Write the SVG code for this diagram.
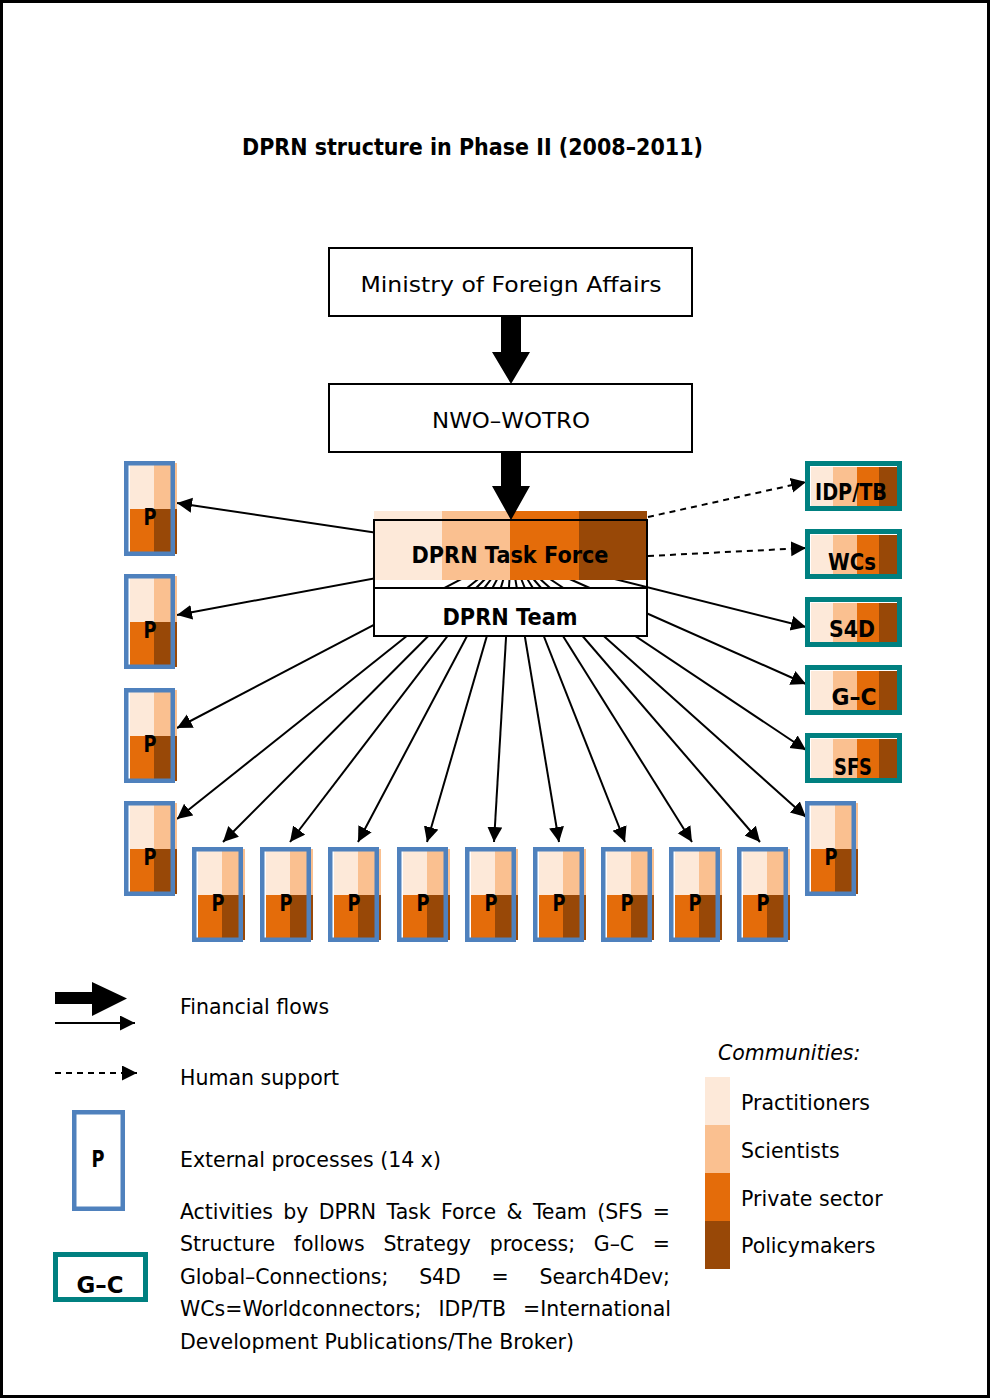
<svg xmlns="http://www.w3.org/2000/svg" xmlns:xlink="http://www.w3.org/1999/xlink" width="990" height="1398" viewBox="0 0 990 1398">
<style>
.t{font-family:"DejaVu Sans","Liberation Sans",sans-serif;font-size:20.5px;fill:#000}
.b{font-family:"DejaVu Sans","Liberation Sans",sans-serif;font-weight:bold;fill:#000}
.box{fill:#fff;stroke:#000;stroke-width:2}
.ln{stroke:#000;stroke-width:2;fill:none;marker-end:url(#ah)}
.dl{stroke:#000;stroke-width:2;fill:none;stroke-dasharray:6 5;marker-end:url(#ah)}
.c1{fill:#FDE9D9}.c2{fill:#FAC090}.c3{fill:#E46C0A}.c4{fill:#984807}
</style>
<defs>
<marker id="ah" markerUnits="userSpaceOnUse" markerWidth="16" markerHeight="16" refX="15" refY="7.5" orient="auto">
<path d="M0,0 L15,7.5 L0,15 z" fill="#000"/>
</marker>
<g id="pshape">
<rect class="c1" x="6" y="2" width="24" height="46"/>
<rect class="c2" x="30" y="2" width="23" height="46"/>
<rect class="c3" x="6" y="48" width="24" height="45"/>
<rect class="c4" x="30" y="48" width="23" height="45"/>
<rect x="2.25" y="2.25" width="46.5" height="90.5" fill="none" stroke="#4F81BD" stroke-width="4.5"/>
</g>
<g id="cshape">
<rect class="c1" x="6" y="6" width="22" height="40"/>
<rect class="c2" x="28" y="6" width="24" height="40"/>
<rect class="c3" x="52" y="6" width="22" height="40"/>
<rect class="c4" x="74" y="6" width="19" height="40"/>
<rect x="2.5" y="2.5" width="92" height="45" fill="none" stroke="#008080" stroke-width="5"/>
</g>
</defs>
<rect x="0" y="0" width="990" height="1398" fill="#fff"/>
<rect x="1.5" y="1.5" width="987" height="1395" fill="none" stroke="#000" stroke-width="3"/>
<text class="b" x="242" y="155" font-size="23" textLength="461" lengthAdjust="spacingAndGlyphs">DPRN structure in Phase II (2008–2011)</text>

<g id="connectors">
<line class="ln" x1="511" y1="553" x2="177" y2="503"/>
<line class="ln" x1="511" y1="553" x2="177" y2="615"/>
<line class="ln" x1="511" y1="553" x2="177" y2="728"/>
<line class="ln" x1="511" y1="553" x2="177" y2="819"/>
<line class="ln" x1="511" y1="553" x2="223" y2="842"/>
<line class="ln" x1="511" y1="553" x2="290" y2="842"/>
<line class="ln" x1="511" y1="553" x2="358" y2="842"/>
<line class="ln" x1="511" y1="553" x2="427" y2="842"/>
<line class="ln" x1="511" y1="553" x2="494" y2="842"/>
<line class="ln" x1="511" y1="553" x2="559" y2="842"/>
<line class="ln" x1="511" y1="553" x2="625" y2="842"/>
<line class="ln" x1="511" y1="553" x2="692" y2="842"/>
<line class="ln" x1="511" y1="553" x2="760" y2="842"/>
<line class="ln" x1="511" y1="553" x2="806" y2="817"/>
<line class="ln" x1="511" y1="553" x2="806" y2="627"/>
<line class="ln" x1="511" y1="553" x2="806" y2="684"/>
<line class="ln" x1="511" y1="553" x2="806" y2="750"/>
<line class="dl" x1="648" y1="517" x2="806" y2="482"/>
<line class="dl" x1="648" y1="556" x2="806" y2="548"/>
</g>

<g id="ministry">
<rect class="box" x="329" y="248" width="363" height="68"/>
<text class="t" x="511" y="292" font-size="26" text-anchor="middle" textLength="301" lengthAdjust="spacingAndGlyphs">Ministry of Foreign Affairs</text>
</g>
<g id="nwo-wotro">
<rect class="box" x="329" y="384" width="363" height="68"/>
<text class="t" x="511" y="428" font-size="26" text-anchor="middle" textLength="158" lengthAdjust="spacingAndGlyphs">NWO–WOTRO</text>
</g>
<g id="task-force">
<rect class="c1" x="374" y="511" width="68" height="69"/>
<rect class="c2" x="442" y="511" width="68" height="69"/>
<rect class="c3" x="510" y="511" width="69" height="69"/>
<rect class="c4" x="579" y="511" width="68" height="69"/>
<rect x="374" y="520" width="273" height="68" fill="none" stroke="#000" stroke-width="2"/>
<text class="b" x="510" y="563" font-size="23" text-anchor="middle" textLength="197" lengthAdjust="spacingAndGlyphs">DPRN Task Force</text>
</g>
<g id="team">
<rect class="box" x="374" y="588" width="273" height="48"/>
<text class="b" x="510" y="625" font-size="23" text-anchor="middle" textLength="135" lengthAdjust="spacingAndGlyphs">DPRN Team</text>
</g>

<g id="p-left-1"><use xlink:href="#pshape" x="124" y="461"/><text class="b" x="150" y="525" font-size="23" text-anchor="middle" textLength="13" lengthAdjust="spacingAndGlyphs">P</text></g>
<g id="p-left-2"><use xlink:href="#pshape" x="124" y="574"/><text class="b" x="150" y="638" font-size="23" text-anchor="middle" textLength="13" lengthAdjust="spacingAndGlyphs">P</text></g>
<g id="p-left-3"><use xlink:href="#pshape" x="124" y="688"/><text class="b" x="150" y="752" font-size="23" text-anchor="middle" textLength="13" lengthAdjust="spacingAndGlyphs">P</text></g>
<g id="p-left-4"><use xlink:href="#pshape" x="124" y="801"/><text class="b" x="150" y="865" font-size="23" text-anchor="middle" textLength="13" lengthAdjust="spacingAndGlyphs">P</text></g>
<g id="p-bottom-1"><use xlink:href="#pshape" x="192" y="847"/><text class="b" x="218" y="911" font-size="23" text-anchor="middle" textLength="13" lengthAdjust="spacingAndGlyphs">P</text></g>
<g id="p-bottom-2"><use xlink:href="#pshape" x="260" y="847"/><text class="b" x="286" y="911" font-size="23" text-anchor="middle" textLength="13" lengthAdjust="spacingAndGlyphs">P</text></g>
<g id="p-bottom-3"><use xlink:href="#pshape" x="328" y="847"/><text class="b" x="354" y="911" font-size="23" text-anchor="middle" textLength="13" lengthAdjust="spacingAndGlyphs">P</text></g>
<g id="p-bottom-4"><use xlink:href="#pshape" x="397" y="847"/><text class="b" x="423" y="911" font-size="23" text-anchor="middle" textLength="13" lengthAdjust="spacingAndGlyphs">P</text></g>
<g id="p-bottom-5"><use xlink:href="#pshape" x="465" y="847"/><text class="b" x="491" y="911" font-size="23" text-anchor="middle" textLength="13" lengthAdjust="spacingAndGlyphs">P</text></g>
<g id="p-bottom-6"><use xlink:href="#pshape" x="533" y="847"/><text class="b" x="559" y="911" font-size="23" text-anchor="middle" textLength="13" lengthAdjust="spacingAndGlyphs">P</text></g>
<g id="p-bottom-7"><use xlink:href="#pshape" x="601" y="847"/><text class="b" x="627" y="911" font-size="23" text-anchor="middle" textLength="13" lengthAdjust="spacingAndGlyphs">P</text></g>
<g id="p-bottom-8"><use xlink:href="#pshape" x="669" y="847"/><text class="b" x="695" y="911" font-size="23" text-anchor="middle" textLength="13" lengthAdjust="spacingAndGlyphs">P</text></g>
<g id="p-bottom-9"><use xlink:href="#pshape" x="737" y="847"/><text class="b" x="763" y="911" font-size="23" text-anchor="middle" textLength="13" lengthAdjust="spacingAndGlyphs">P</text></g>
<g id="p-right"><use xlink:href="#pshape" x="805" y="801"/><text class="b" x="831" y="865" font-size="23" text-anchor="middle" textLength="13" lengthAdjust="spacingAndGlyphs">P</text></g>

<g id="idp-tb"><use xlink:href="#cshape" x="805" y="461"/><text class="b" x="851" y="500" font-size="23" text-anchor="middle" textLength="72" lengthAdjust="spacingAndGlyphs">IDP/TB</text></g>
<g id="wcs"><use xlink:href="#cshape" x="805" y="529"/><text class="b" x="852" y="570" font-size="23" text-anchor="middle" textLength="48" lengthAdjust="spacingAndGlyphs">WCs</text></g>
<g id="s4d"><use xlink:href="#cshape" x="805" y="597"/><text class="b" x="852" y="637" font-size="23" text-anchor="middle" textLength="46" lengthAdjust="spacingAndGlyphs">S4D</text></g>
<g id="g-c"><use xlink:href="#cshape" x="805" y="665"/><text class="b" x="854" y="705" font-size="23" text-anchor="middle" textLength="45" lengthAdjust="spacingAndGlyphs">G–C</text></g>
<g id="sfs"><use xlink:href="#cshape" x="805" y="733"/><text class="b" x="853" y="775" font-size="23" text-anchor="middle" textLength="38" lengthAdjust="spacingAndGlyphs">SFS</text></g>

<g id="financial-flow-arrows">
<path d="M501,316 H521 V352 H530 L511,384 L492,352 H501 Z" fill="#000"/>
<path d="M501,452 H521 V486 H530 L511,520 L492,486 H501 Z" fill="#000"/>
</g>

<g id="legend">
<path d="M55,992 H92 V982 L127,998.5 L92,1016 V1004 H55 Z" fill="#000"/>
<line class="ln" x1="55" y1="1023" x2="135" y2="1023"/>
<text class="t" x="180" y="1014">Financial flows</text>
<line class="dl" x1="55" y1="1073" x2="137" y2="1073"/>
<text class="t" x="180" y="1085">Human support</text>
<rect x="74.25" y="1112.25" width="48.5" height="96.5" fill="#fff" stroke="#4F81BD" stroke-width="4.5"/>
<text class="b" x="98" y="1167" font-size="23" text-anchor="middle" textLength="13" lengthAdjust="spacingAndGlyphs">P</text>
<text class="t" x="180" y="1167">External processes (14 x)</text>
<rect x="55.5" y="1254.5" width="90" height="45" fill="#fff" stroke="#008080" stroke-width="5"/>
<text class="b" x="100" y="1293" font-size="23" text-anchor="middle" textLength="47" lengthAdjust="spacingAndGlyphs">G–C</text>
<text class="t" x="180" y="1219" word-spacing="4" textLength="490" lengthAdjust="spacing">Activities by DPRN Task Force &amp; Team (SFS =</text>
<text class="t" x="180" y="1251" word-spacing="12.2" textLength="490" lengthAdjust="spacing">Structure follows Strategy process; G–C =</text>
<text class="t" x="180" y="1284" word-spacing="24.3" textLength="490" lengthAdjust="spacing">Global–Connections; S4D = Search4Dev;</text>
<text class="t" x="180" y="1316" word-spacing="10.5" textLength="491" lengthAdjust="spacing">WCs=Worldconnectors; IDP/TB =International</text>
<text class="t" x="180" y="1349">Development Publications/The Broker)</text>
</g>

<g id="communities-legend">
<text class="t" x="718" y="1060" font-style="italic">Communities:</text>
<rect class="c1" x="705" y="1077" width="25" height="48"/>
<rect class="c2" x="705" y="1125" width="25" height="48"/>
<rect class="c3" x="705" y="1173" width="25" height="48"/>
<rect class="c4" x="705" y="1221" width="25" height="48"/>
<text class="t" x="741" y="1110">Practitioners</text>
<text class="t" x="741" y="1158">Scientists</text>
<text class="t" x="741" y="1206">Private sector</text>
<text class="t" x="741" y="1253">Policymakers</text>
</g>
</svg>
